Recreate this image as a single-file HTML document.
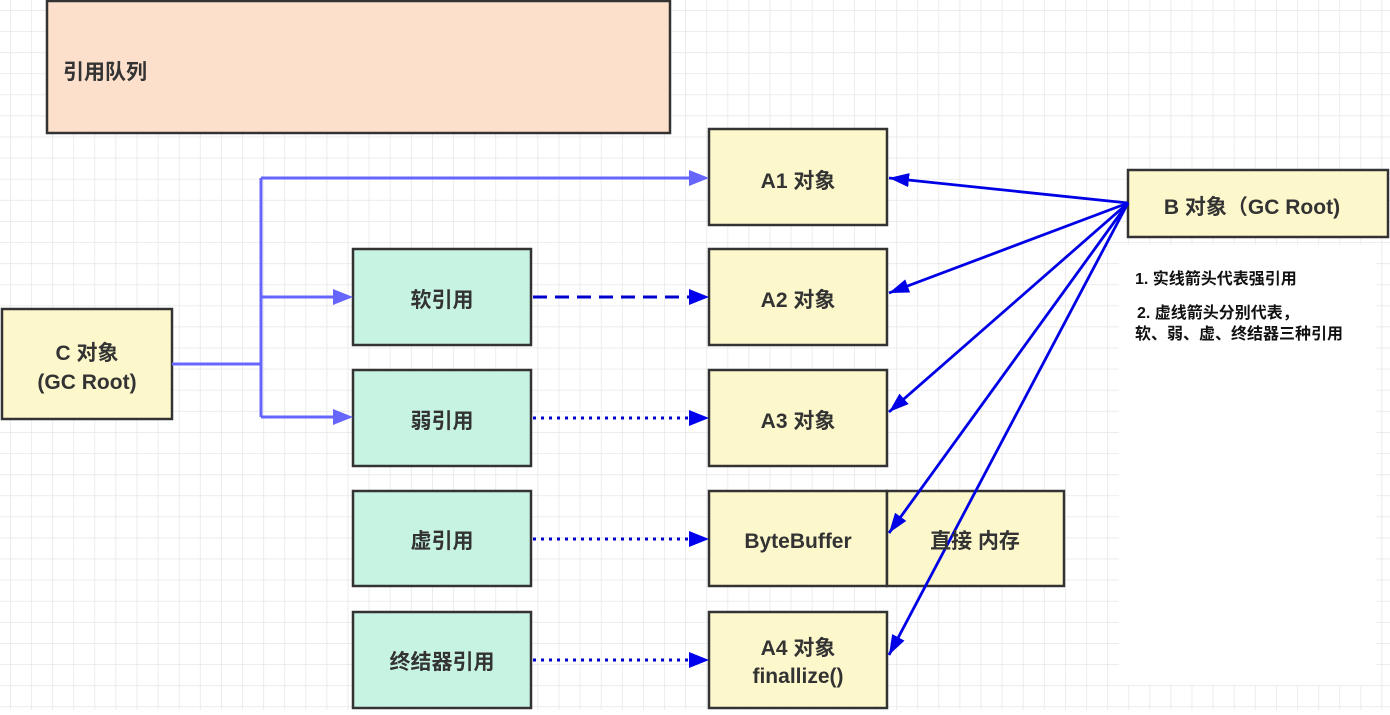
<!DOCTYPE html>
<html><head><meta charset="utf-8"><style>
body{margin:0;width:1390px;height:710px;overflow:hidden;background:#fff;font-family:"Liberation Sans","Noto Sans CJK SC",sans-serif;}
</style></head><body>
<svg width="1390" height="710" xmlns="http://www.w3.org/2000/svg" font-family="Liberation Sans, Noto Sans CJK SC, sans-serif">
<defs>
<pattern id="g" width="21.1" height="21.1" patternUnits="userSpaceOnUse" x="10" y="10">
<path d="M0 0H21.1M0 0V21.1" stroke="#e6e6e6" stroke-width="1.5" fill="none"/>
</pattern>
<marker id="a2" markerWidth="22" markerHeight="14" refX="20" refY="7" orient="auto" markerUnits="userSpaceOnUse"><path d="M0,0 L20,7 L0,14 Z" fill="#0000e6"/></marker>
</defs>
<rect width="1390" height="710" fill="url(#g)"/>
<rect x="1119" y="245" width="257" height="440" fill="#fff"/>
<g stroke="#333" stroke-width="2.5">
<rect x="47" y="1" width="623" height="132" fill="#fce0cb"/>
<rect x="709" y="129" width="178" height="96" fill="#fdf8cc"/>
<rect x="709" y="249" width="178" height="96" fill="#fdf8cc"/>
<rect x="709" y="370" width="178" height="96" fill="#fdf8cc"/>
<rect x="709" y="491" width="178" height="95" fill="#fdf8cc"/>
<rect x="887" y="491" width="177" height="95" fill="#fdf8cc"/>
<rect x="709" y="612" width="178" height="96" fill="#fdf8cc"/>
<rect x="353" y="249" width="178" height="96" fill="#c7f3e2"/>
<rect x="353" y="370" width="178" height="96" fill="#c7f3e2"/>
<rect x="353" y="491" width="178" height="95" fill="#c7f3e2"/>
<rect x="353" y="612" width="178" height="96" fill="#c7f3e2"/>
<rect x="2" y="309" width="170" height="110" fill="#fdf8cc"/>
<rect x="1128" y="170" width="260" height="67" fill="#fdf8cc"/>
</g>
<g stroke="#6666ff" stroke-width="3" fill="none">
<path d="M172 364H261M261 178V417"/>
<path d="M261 178H690"/><path d="M261 297H333"/><path d="M261 417H333"/>
</g>
<g fill="#6666ff">
<path d="M709 178L689 170L689 186Z"/><path d="M353 297L333 289L333 305Z"/><path d="M353 417L333 409L333 425Z"/>
</g>
<g stroke="#0000cc" stroke-width="3" fill="none">
<path d="M533 297H690" stroke-dasharray="14 8"/>
<path d="M533 418H690" stroke-dasharray="3 5"/>
<path d="M533 539H690" stroke-dasharray="3 5"/>
<path d="M533 660H690" stroke-dasharray="3 5"/>
</g>
<g fill="#0000ee">
<path d="M709 297L689 289L689 305Z"/><path d="M709 418L689 410L689 426Z"/><path d="M709 539L689 531L689 547Z"/><path d="M709 660L689 652L689 668Z"/>
</g>
<g stroke="#0000e6" stroke-width="2.8" fill="none">
<line x1="1128" y1="203" x2="889" y2="178" marker-end="url(#a2)"/>
<line x1="1128" y1="203" x2="889" y2="293" marker-end="url(#a2)"/>
<line x1="1128" y1="203" x2="889" y2="412" marker-end="url(#a2)"/>
<line x1="1128" y1="203" x2="889" y2="533" marker-end="url(#a2)"/>
<line x1="1128" y1="203" x2="889" y2="655" marker-end="url(#a2)"/>
</g>
<g fill="#333" font-size="21" font-weight="bold" text-anchor="middle">
<text x="105" y="79" text-anchor="middle">引用队列</text>
<text x="798" y="188">A1 对象</text>
<text x="798" y="307">A2 对象</text>
<text x="798" y="428">A3 对象</text>
<text x="798" y="548">ByteBuffer</text>
<text x="975" y="548">直接 内存</text>
<text x="798" y="655">A4 对象</text>
<text x="798" y="683">finallize()</text>
<text x="442" y="307">软引用</text>
<text x="442" y="428">弱引用</text>
<text x="442" y="548">虚引用</text>
<text x="442" y="669">终结器引用</text>
<text x="87" y="360">C 对象</text>
<text x="87" y="389">(GC Root)</text>
<text x="1252" y="214">B 对象（GC Root)</text>
</g>
<g fill="#111" font-size="16" font-weight="bold">
<text x="1135" y="284">1. 实线箭头代表强引用</text>
<text x="1137" y="318">2. 虚线箭头分别代表，</text>
<text x="1135" y="339">软、弱、虚、终结器三种引用</text>
</g>
</svg>
</body></html>
